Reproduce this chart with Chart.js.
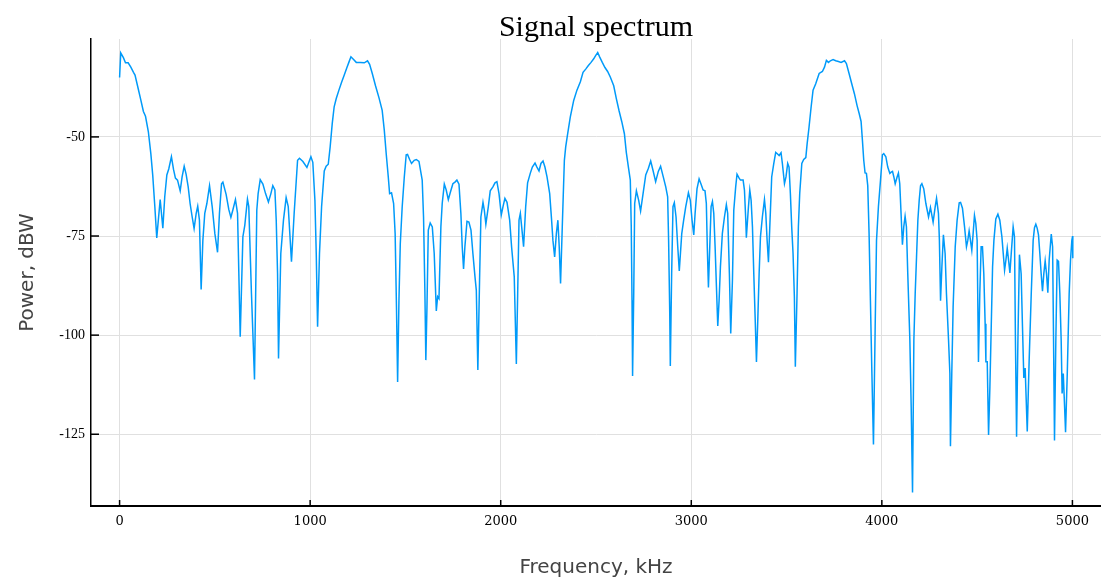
<!DOCTYPE html>
<html>
<head>
<meta charset="utf-8">
<script src="https://cdn.jsdelivr.net/npm/chart.js@4/dist/chart.umd.min.js"></script>
<style>
  html, body { margin: 0; padding: 0; background: #ffffff; }
  #wrap { width: 1101px; height: 585px; }
</style>
</head>
<body>
<div id="wrap"><canvas id="c" width="1101" height="585"></canvas></div>
<script>
const freqKHz = [
  0, 6, 20, 31, 45, 59, 73, 81, 99, 111, 125, 136, 151, 164, 174, 185, 195, 213, 227, 237,
  248, 258, 272, 283, 293, 304, 318, 328, 339, 349, 360, 370, 381, 391, 402, 410, 419, 428, 437, 447,
  458, 472, 486, 500, 514, 524, 535, 542, 559, 573, 584, 594, 608, 619, 633, 647, 657, 671, 678, 692,
  708, 720, 727,
  738, 752, 766, 781, 794, 804, 815, 822, 829, 834, 846, 860, 874, 885, 902, 916, 934, 944, 962, 983,
  1004, 1014, 1025, 1032, 1039, 1049, 1060, 1074, 1084, 1095, 1105, 1116, 1126, 1137, 1151, 1165, 1179, 1193, 1203, 1214,
  1228, 1242, 1263, 1284, 1301, 1312, 1326, 1343, 1361, 1378, 1389, 1399, 1410, 1417, 1427, 1438, 1446, 1453, 1459, 1466,
  1473, 1483, 1494, 1504, 1511, 1522, 1532, 1546, 1557, 1571,
  1588, 1595, 1602, 1607, 1613, 1620, 1630, 1641, 1651, 1662, 1669, 1676, 1686, 1693, 1704, 1714, 1725, 1735, 1749, 1760,
  1770, 1781, 1791, 1798, 1805, 1812, 1823, 1833, 1844, 1854, 1865, 1872, 1880, 1889, 1896, 1907, 1914, 1922, 1935, 1945,
  1959, 1970, 1980, 1991, 2003, 2012, 2022, 2033, 2047, 2057, 2071, 2082, 2089, 2096, 2103, 2110, 2120, 2131, 2141, 2155,
  2166, 2180, 2190, 2201, 2211, 2222, 2232, 2243, 2257, 2267, 2274, 2283, 2292, 2300, 2307, 2314, 2323, 2334, 2341, 2351,
  2365, 2383, 2400,
  2418, 2432, 2446, 2460, 2474, 2488, 2498, 2509, 2519, 2533, 2547, 2561, 2575, 2593, 2607, 2621, 2635, 2649, 2659, 2670,
  2680, 2685, 2689, 2692, 2698, 2703, 2712, 2724, 2734, 2747, 2761, 2775, 2787, 2799, 2813, 2827, 2839, 2852, 2866, 2876,
  2881, 2887, 2890, 2897, 2904, 2911, 2920, 2929, 2937, 2950, 2960, 2971, 2985, 2995, 3004, 3013, 3020, 3030, 3041, 3051,
  3062, 3072, 3079, 3084, 3090, 3097, 3104, 3111, 3118, 3125, 3132, 3139, 3146, 3153, 3163, 3174, 3184, 3191, 3200, 3207,
  3216, 3223, 3233, 3240, 3251,
  3258, 3272, 3279, 3286, 3289, 3300, 3307, 3314, 3321, 3328, 3335, 3342, 3349, 3356, 3363, 3373, 3384, 3391, 3398, 3405,
  3412, 3422, 3433, 3443, 3450, 3461, 3471, 3478, 3489, 3497, 3506, 3513, 3520, 3527, 3534, 3541, 3546, 3555, 3562, 3569,
  3580, 3590, 3601, 3608, 3618, 3629, 3639, 3653, 3671, 3688, 3699, 3709, 3720, 3730, 3744, 3758, 3772, 3786, 3804, 3814,
  3828, 3842, 3856, 3870, 3881, 3891, 3898, 3905, 3912, 3919, 3926, 3933, 3940, 3947, 3956, 3965, 3972, 3982, 3993, 4003,
  4010, 4021, 4031, 4042, 4049, 4056, 4063, 4070, 4080, 4087, 4094,
  4108, 4115, 4122, 4129, 4136, 4147, 4154, 4161, 4168, 4175, 4182, 4189, 4196, 4203, 4210, 4220, 4231, 4245, 4255, 4269,
  4280, 4287, 4297, 4302, 4308, 4315, 4323, 4332, 4339, 4350, 4357, 4360, 4367, 4374, 4385, 4395, 4406, 4413, 4423, 4434,
  4444, 4451, 4458, 4465, 4472, 4479, 4486, 4493, 4500, 4507, 4514, 4521, 4528, 4535, 4542, 4546, 4553, 4560, 4567, 4574,
  4581, 4588, 4598, 4609, 4619, 4630, 4637, 4644, 4651, 4658, 4665, 4672, 4679, 4689, 4696, 4701, 4707, 4714, 4722, 4731,
  4738, 4745, 4752, 4763, 4773, 4784, 4794, 4801, 4808, 4815, 4822, 4829, 4836, 4843, 4850, 4857, 4864, 4871, 4878, 4889,
  4896, 4901, 4906, 4913, 4920, 4927, 4934, 4941, 4946, 4952, 4959, 4964, 4973, 4983, 4990, 4997, 5001, 5002
];

const powerDbw = [
  -35.0, -28.8, -30.0, -31.3, -31.3, -32.4, -33.7, -34.4, -38.1, -40.6, -43.6, -44.8, -48.7, -54.2, -59.7, -67.6, -75.5, -65.8, -73.0, -65.1,
  -59.6, -58.1, -55.0, -58.2, -60.4, -60.9, -63.6, -60.1, -57.4, -59.4, -62.6, -66.8, -70.2, -73.1, -69.3, -67.5, -71.0, -88.5, -76.1, -69.3,
  -66.8, -62.3, -67.6, -74.4, -79.1, -69.3, -61.8, -61.4, -64.5, -68.3, -70.3, -68.5, -65.8, -69.3, -100.4, -75.2, -72.3, -65.7, -67.6, -89.5,
  -111.2, -68.5, -64.3,
  -60.8, -61.9, -64.3, -66.4, -64.3, -62.3, -63.4, -71.0, -84.5, -105.9, -79.4, -71.0, -65.3, -67.6, -81.5, -69.3, -55.9, -55.4, -56.2, -57.7,
  -55.0, -56.4, -66.0, -79.4, -97.9, -79.4, -67.6, -58.6, -57.4, -56.9, -52.5, -46.6, -42.4, -40.3, -38.2, -36.2, -34.4, -32.5, -31.2, -29.8,
  -30.5, -31.2, -31.2, -31.3, -30.8, -31.7, -34.0, -37.1, -40.1, -43.3, -48.3, -54.2, -60.1, -64.3, -64.1, -66.8, -74.4, -92.9, -111.8, -91.2,
  -76.9, -67.6, -60.1, -54.5, -54.4, -55.7, -56.7, -55.9, -55.7, -56.2,
  -60.9, -70.2, -88.7, -106.3, -92.9, -73.5, -71.7, -72.7, -79.4, -93.9, -90.3, -90.8, -72.7, -66.8, -61.9, -63.4, -65.8, -64.1, -61.8, -61.4,
  -60.9, -61.9, -69.3, -77.7, -83.3, -77.7, -71.3, -71.5, -73.5, -79.4, -85.3, -88.7, -108.8, -86.1, -70.2, -66.5, -68.5, -72.0, -67.6, -63.6,
  -62.6, -61.6, -61.3, -64.3, -69.7, -67.6, -65.5, -66.5, -71.0, -77.7, -85.3, -107.3, -89.5, -71.0, -69.3, -72.7, -77.7, -67.6, -61.6, -59.2,
  -57.6, -56.6, -57.6, -58.6, -56.7, -56.1, -57.6, -60.1, -64.3, -71.0, -76.1, -80.3, -74.4, -71.0, -77.7, -87.0, -72.7, -55.9, -52.5, -49.3,
  -45.0, -40.8, -38.2,
  -36.1, -33.7, -32.9, -32.0, -31.2, -30.3, -29.5, -28.7, -29.8, -31.2, -32.5, -33.5, -34.9, -37.1, -40.4, -43.4, -46.1, -49.2, -53.9, -57.6,
  -60.9, -72.7, -91.2, -110.3, -89.5, -66.8, -63.6, -66.0, -68.7, -64.3, -59.6, -57.9, -56.1, -58.4, -61.3, -58.7, -57.4, -59.9, -62.6, -65.1,
  -76.1, -94.5, -107.8, -84.5, -67.6, -66.6, -70.2, -77.7, -83.8, -74.4, -71.0, -67.6, -64.1, -66.0, -71.0, -74.7, -69.3, -63.1, -60.6, -61.9,
  -63.4, -63.6, -66.8, -77.7, -88.0, -77.7, -67.6, -66.3, -69.3, -77.7, -87.8, -97.7, -91.2, -82.7, -74.4, -70.2, -67.1, -69.3, -84.5, -99.6,
  -86.1, -68.5, -62.6, -59.4, -60.4,
  -60.9, -60.9, -63.4, -71.0, -75.4, -67.6, -63.4, -66.0, -72.7, -84.5, -95.4, -106.8, -96.2, -84.5, -75.2, -70.2, -65.8, -69.3, -76.1, -81.6,
  -72.7, -60.1, -56.7, -53.9, -54.2, -54.7, -54.0, -56.7, -61.8, -60.1, -56.7, -57.6, -64.3, -72.7, -79.4, -90.3, -108.0, -89.5, -72.7, -64.3,
  -56.7, -55.7, -55.2, -51.7, -47.5, -42.4, -38.2, -36.6, -34.0, -33.5, -32.4, -30.7, -31.2, -30.8, -30.5, -30.8, -31.0, -31.2, -30.8, -31.5,
  -34.0, -36.6, -39.1, -42.1, -44.1, -46.1, -50.8, -55.9, -59.1, -59.2, -62.3, -74.4, -91.2, -108.0, -127.6, -97.9, -76.1, -67.6, -60.9, -54.5,
  -54.2, -55.0, -57.6, -59.2, -58.9, -58.7, -60.1, -61.8, -60.1, -59.1, -61.8,
  -77.2, -72.7, -70.0, -72.7, -84.5, -101.3, -118.1, -139.7, -101.3, -89.5, -80.3, -71.0, -66.0, -62.3, -61.8, -63.1, -66.8, -70.2, -67.8, -71.5,
  -67.6, -65.5, -69.3, -76.1, -91.3, -82.8, -74.7, -79.4, -89.5, -101.3, -109.7, -128.0, -109.7, -92.9, -77.7, -71.0, -66.6, -66.5, -68.0, -72.7,
  -77.7, -76.1, -73.7, -76.1, -78.6, -74.4, -69.8, -71.8, -76.1, -106.8, -89.5, -77.7, -77.7, -84.5, -97.1, -106.7, -106.7, -125.2, -113.0, -97.9,
  -82.8, -76.1, -70.7, -69.5, -71.0, -75.2, -79.4, -83.6, -81.1, -78.1, -81.1, -84.3, -79.4, -72.7, -75.2, -101.3, -125.6, -101.3, -79.7, -84.5,
  -97.9, -110.8, -108.3, -124.3, -106.3, -89.5, -76.1, -72.9, -72.0, -73.0, -74.7, -79.4, -84.5, -88.9, -84.5, -81.3, -84.5, -89.3, -81.1, -74.5,
  -77.7, -101.3, -126.6, -101.3, -81.1, -81.4, -89.5, -101.3, -114.7, -109.7, -118.1, -124.5, -109.7, -89.5, -81.1, -76.1, -75.0, -80.6
];

const xTickValues = [0, 1000, 2000, 3000, 4000, 5000];
const yTickValues = [-125, -100, -75, -50];
const chartTitle = 'Signal spectrum';
const xAxisTitle = 'Frequency, kHz';
const yAxisTitle = 'Power, dBW';

const points = freqKHz.map((f, i) => ({ x: f, y: powerDbw[i] }));

const innerTicks = {
  id: 'innerTicks',
  afterDraw(chart) {
    const { ctx, chartArea, scales } = chart;
    ctx.save();
    ctx.strokeStyle = '#000';
    ctx.lineWidth = 1.5;
    scales.x.ticks.forEach(t => {
      const px = scales.x.getPixelForValue(t.value);
      ctx.beginPath();
      ctx.moveTo(px, chartArea.bottom);
      ctx.lineTo(px, chartArea.bottom - 6);
      ctx.stroke();
    });
    scales.y.ticks.forEach(t => {
      const py = scales.y.getPixelForValue(t.value);
      ctx.beginPath();
      ctx.moveTo(chartArea.left, py);
      ctx.lineTo(chartArea.left + 8, py);
      ctx.stroke();
    });
    ctx.restore();
  }
};

new Chart(document.getElementById('c'), {
  type: 'scatter',
  data: {
    datasets: [{
      data: points,
      showLine: true,
      borderColor: '#009af9',
      backgroundColor: '#009af9',
      borderWidth: 1.5,
      pointRadius: 0,
      tension: 0,
      fill: false
    }]
  },
  options: {
    responsive: false,
    animation: false,
    devicePixelRatio: 1,
    layout: { padding: 0 },
    plugins: {
      legend: { display: false },
      tooltip: { enabled: false },
      title: {
        display: true,
        text: chartTitle,
        fullSize: false,
        color: '#000',
        font: { family: "'Liberation Serif', 'Times New Roman', serif", size: 30, weight: 'normal', lineHeight: 0.733 },
        padding: { top: 17, bottom: 0 }
      }
    },
    scales: {
      x: {
        type: 'linear',
        position: 'bottom',
        min: -150,
        max: 5150,
        afterBuildTicks: s => { s.ticks = xTickValues.map(v => ({ value: v })); },
        afterFit: s => { s.height = 79; },
        grid: { color: '#e0e0e0', lineWidth: 1, drawTicks: false },
        border: { display: true, color: '#000', width: 2 },
        ticks: {
          color: '#000',
          padding: 8,
          maxRotation: 0,
          font: { family: "'DejaVu Serif', serif", size: 13 },
          callback: v => String(v)
        },
        title: {
          display: true,
          text: xAxisTitle,
          color: '#444',
          font: { family: "'DejaVu Sans', sans-serif", size: 20 },
          padding: { top: 0, bottom: 5 }
        }
      },
      y: {
        type: 'linear',
        position: 'left',
        min: -143.1,
        max: -25.3,
        afterBuildTicks: s => { s.ticks = yTickValues.map(v => ({ value: v })); },
        afterFit: s => { s.width = 91; },
        grid: { color: '#e0e0e0', lineWidth: 1, drawTicks: false },
        border: { display: true, color: '#000', width: 1.5 },
        ticks: {
          color: '#000',
          padding: 6,
          font: { family: "'Liberation Serif', serif", size: 14 },
          callback: v => String(v)
        },
        title: {
          display: true,
          text: yAxisTitle,
          color: '#444',
          font: { family: "'DejaVu Sans', sans-serif", size: 20 },
          padding: { top: 16, bottom: 0 }
        }
      }
    }
  },
  plugins: [innerTicks]
});
</script>
</body>
</html>
